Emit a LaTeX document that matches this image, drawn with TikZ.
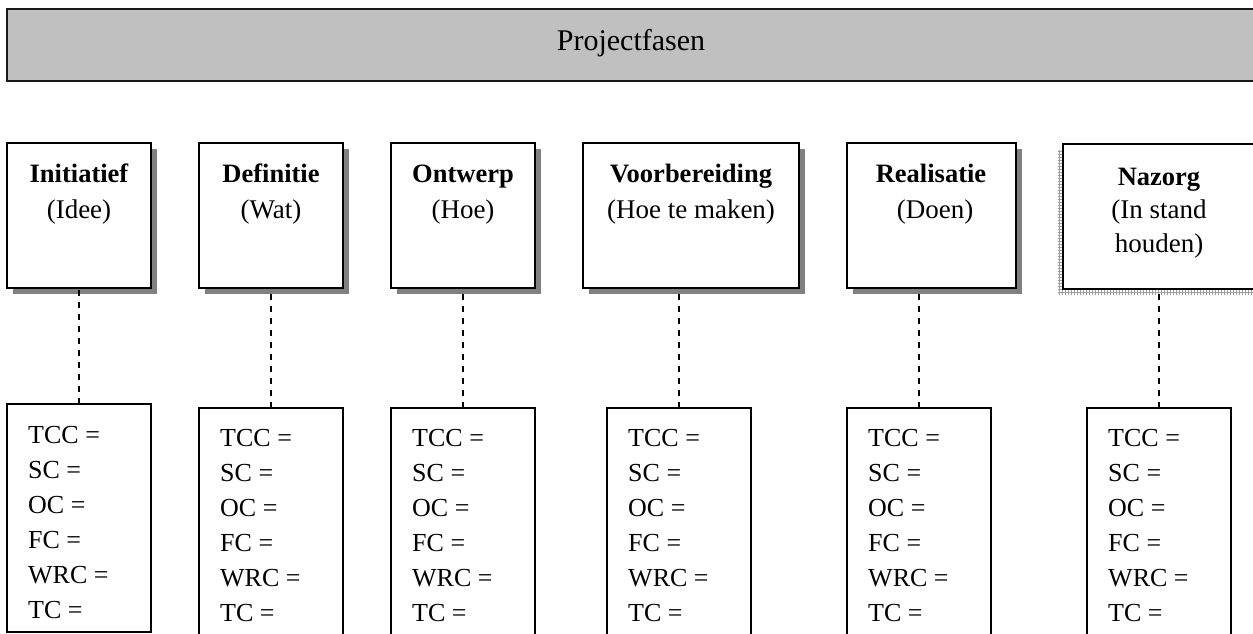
\documentclass[tikz,border=0pt]{standalone}
\usepackage{fontspec}
\setmainfont{Liberation Serif}
\usetikzlibrary{shadows,patterns}
\definecolor{bannergray}{RGB}{192,192,192}
\definecolor{shadowgray}{RGB}{128,128,128}
\begin{document}
\begin{tikzpicture}[x=1pt,y=-1pt,
  phasebox/.style={draw=black, line width=1.8pt, fill=white, inner sep=0pt, outer sep=0pt,
    anchor=north west, rectangle},
  shadowed/.style={drop shadow={shadow xshift=6pt, shadow yshift=-6pt, fill=shadowgray, opacity=1}},
  costbox/.style={draw=black, line width=1.6pt, fill=white, inner sep=0pt, outer sep=0pt,
    anchor=north west, rectangle},
  title/.style={font=\fontsize{26.5}{35}\selectfont\bfseries, inner sep=0pt, anchor=base},
  subtitle/.style={font=\fontsize{27}{35}\selectfont, inner sep=0pt, anchor=base},
  entry/.style={font=\fontsize{26}{35}\selectfont, inner sep=0pt, anchor=base west},
  link/.style={line width=1.8pt, dash pattern=on 6pt off 6pt}
]
\clip (0,0) rectangle (1253,634);
\fill[white] (0,0) rectangle (1253,634);

% banner
\node[draw=black!90, line width=2.2pt, fill=bannergray, inner sep=0pt, outer sep=0pt,
  anchor=north west, minimum width=1251pt, minimum height=72pt] (banner) at (7,9) {};
\node[font=\fontsize{30}{36}\selectfont, inner sep=0pt, anchor=base] (bannertext) at (631,51) {Projectfasen};

% phase boxes
\node[phasebox, shadowed, minimum width=144pt, minimum height=145pt] (p1) at (7,143) {};
\node[phasebox, shadowed, minimum width=144pt, minimum height=145pt] (p2) at (199,143) {};
\node[phasebox, shadowed, minimum width=144pt, minimum height=145pt] (p3) at (391,143) {};
\node[phasebox, shadowed, minimum width=216pt, minimum height=145pt] (p4) at (583,143) {};
\node[phasebox, shadowed, minimum width=169pt, minimum height=145pt] (p5) at (847,143) {};
% the last phase box has a hatched shadow to the lower left
\path[fill=gray!40, pattern=grid, pattern color=gray!75] (1058,150) rectangle (1262,294);
\node[phasebox, minimum width=192pt, minimum height=145pt] (p6) at (1063,144) {};

\node[title] (p1a) at (79,182) {Initiatief};
\node[subtitle] (p1b) at (79,218) {(Idee)};
\node[title] (p2a) at (271,182) {Definitie};
\node[subtitle] (p2b) at (271,218) {(Wat)};
\node[title] (p3a) at (463,182) {Ontwerp};
\node[subtitle] (p3b) at (463,218) {(Hoe)};
\node[title] (p4a) at (691,182) {Voorbereiding};
\node[subtitle] (p4b) at (691,218) {(Hoe te maken)};
\node[title] (p5a) at (931,182) {Realisatie};
\node[subtitle] (p5b) at (935,218) {(Doen)};
\node[title] (p6a) at (1159,185) {Nazorg};
\node[subtitle] (p6b) at (1159,218) {(In stand};
\node[subtitle] (p6c) at (1159,252) {houden)};

% cost boxes
\node[costbox, minimum width=144pt, minimum height=228pt] (q1) at (7,404) {};
\node[costbox, minimum width=144pt, minimum height=260pt] (q2) at (199,408) {};
\node[costbox, minimum width=144pt, minimum height=260pt] (q3) at (391,408) {};
\node[costbox, minimum width=144pt, minimum height=260pt] (q4) at (607,408) {};
\node[costbox, minimum width=144pt, minimum height=260pt] (q5) at (847,408) {};
\node[costbox, minimum width=144pt, minimum height=260pt] (q6) at (1087,408) {};

\foreach \b/\x/\y in {q1/28/443, q2/220/446, q3/412/446, q4/628/446, q5/868/446, q6/1108/446}{
  \foreach \t [count=\i from 0] in {TCC =, SC =, OC =, FC =, WRC =, TC =}{
    \node[entry] (\b-\i) at (\x,\y+35*\i) {\t};
  }
}

% dashed connectors
\foreach \p/\q in {p1/q1, p2/q2, p3/q3, p4/q4, p5/q5, p6/q6}{
  \draw[link] (\q.north) -- (\q.north |- \p.south);
}
\end{tikzpicture}
\end{document}
